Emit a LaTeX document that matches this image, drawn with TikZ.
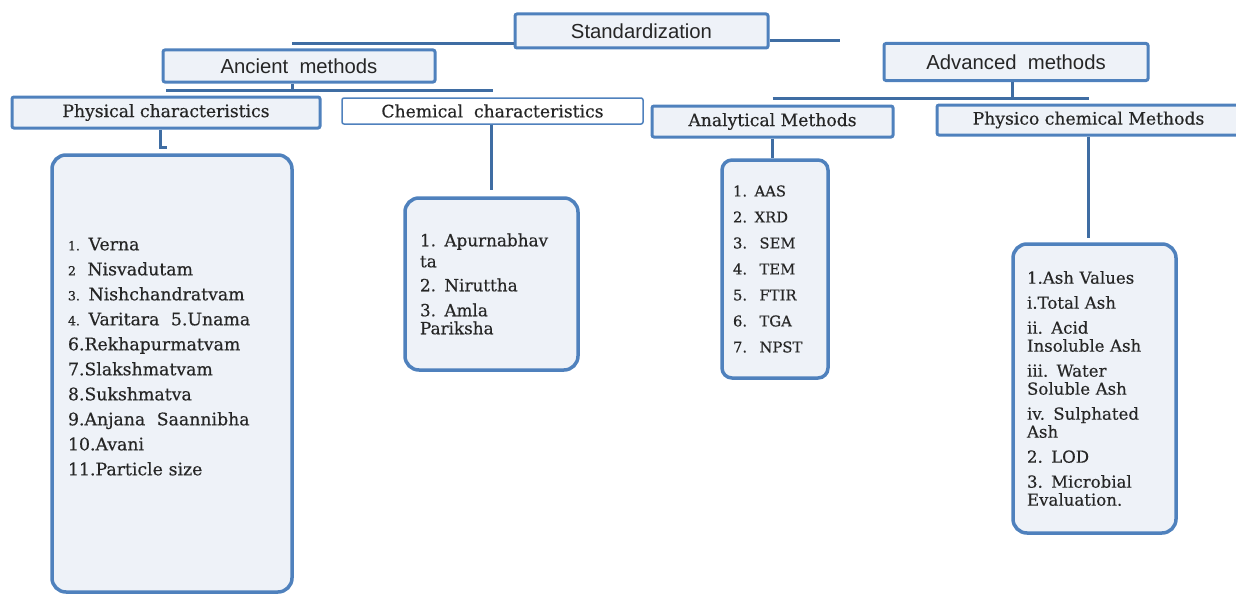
\documentclass[tikz,border=0pt]{standalone}
\usepackage{fontspec}
\setmainfont{DejaVu Serif}[FakeBold=0.4]
\newfontfamily\hdfont{Liberation Sans}
\usetikzlibrary{positioning}
\definecolor{boxblue}{HTML}{4F81BD}
\definecolor{boxfill}{HTML}{EEF2F8}
\definecolor{linkblue}{HTML}{3F6DA3}
\definecolor{txt}{HTML}{262626}
\newcommand{\sno}[1]{{\fontsize{12.5}{12}\selectfont #1}}

\begin{document}
\begin{tikzpicture}[x=1pt, y=-1pt, top/.style = {rectangle, draw=boxblue, fill=boxfill, line width=3pt, rounded corners=2pt, text=txt, font=\hdfont\fontsize{20.3}{22}\selectfont, inner sep=0pt}, head/.style = {rectangle, draw=boxblue, fill=boxfill, line width=3pt, rounded corners=2pt, text=txt, font=\fontsize{17.2}{18}\selectfont, inner sep=0pt}, listbox/.style = {rectangle, draw=boxblue, fill=boxfill, line width=3.5pt, rounded corners=14pt, text=txt, align=left, inner sep=0pt}, link/.style = {draw=linkblue, line width=3pt}]
	\useasboundingbox (0,0) rectangle (1236,594);

	\node[top, minimum width=253, minimum height=34] (std) at (641.5,31) {Standardization};
	\node[top, minimum width=272, minimum height=32] (anc) at (299,66) {Ancient\ \ methods};
	\node[top, minimum width=264, minimum height=37] (adv) at (1016,62) {Advanced\ \ methods};
	\node[head, minimum width=308, minimum height=31] (phys) at (166,112.5) {Physical characteristics\hspace{20pt}};
	\node[head, line width=1.5pt, fill=white, minimum width=301, minimum height=26] (chem) at (492.5,111) {Chemical\ \ characteristics};
	\node[head, minimum width=241, minimum height=31] (anal) at (772.5,121.5) {Analytical Methods};
	\node[head, minimum width=303, minimum height=30] (phyche) at (1088.5,120) {Physico chemical Methods};

	\node[listbox, minimum width=240, minimum height=437, text width=208, font=\fontsize{17.3}{25}\selectfont] (physlist) at (172,373.5) {\sno{1.} Verna\\ \sno{2} \ Nisvadutam\\ \sno{3.} Nishchandratvam\\ \sno{4.} Varitara \ 5.Unama\\ 6.Rekhapurmatvam\\ 7.Slakshmatvam\\ 8.Sukshmatva\\ 9.Anjana \ Saannibha\\ 10.Avani\\ 11.Particle size\\[9pt]\mbox{}};
	\node[listbox, minimum width=173, minimum height=172, text width=143, font=\fontsize{16.8}{18}\selectfont] (chemlist) at (491.5,284) {1. Apurnabhav\\[3pt] ta\\[6pt] 2. Niruttha\\[7pt] 3. Amla\\ Pariksha};
	\node[listbox, rounded corners=10pt, minimum width=106, minimum height=218, text width=84, font=\fontsize{14.8}{26}\selectfont] (analist) at (775,269) {1. AAS\\ 2. XRD\\ 3. \ SEM\\ 4. \ TEM\\ 5. \ FTIR\\ 6. \ TGA\\ 7. \ NPST};
	\node[listbox, minimum width=163, minimum height=289, text width=135, font=\fontsize{16.6}{18}\selectfont] (pclist) at (1094.5,388.5) {1.Ash Values\\[7pt] i.Total Ash\\[7pt] ii. Acid\\ Insoluble Ash\\[7pt] iii. Water\\ Soluble Ash\\[7pt] iv. Sulphated\\ Ash\\[7pt] 2. LOD\\[7pt] 3. Microbial\\ Evaluation.};

	\coordinate (ancjoin) at (292,44);
	\coordinate (advjoin) at (840,41);
	\coordinate (ancbar) at (292,90);
	\coordinate (advbar) at (1012,98);
	\coordinate (physstub) at (167,147);

	\draw[link] (std.west |- ancjoin) -- (ancjoin);
	\draw[link] (std.east |- advjoin) -- (advjoin);
	\draw[link] (anc.south -| ancbar) -- (ancbar);
	\draw[link] (phys.north |- ancbar) -- (chem.north |- ancbar);
	\draw[link] (adv.south -| advbar) -- (advbar);
	\draw[link] (anal.north |- advbar) -- (phyche.north |- advbar);
	\draw[link] ([xshift=-6pt]phys.south) |- (physstub);
	\draw[link, line width=3.5pt, shorten >=6pt] (chemlist.north |- chem.south) -- (chemlist.north);
	\draw[link, line width=3.5pt] (anal.south) -- (anal.south |- analist.north);
	\draw[link, line width=3.5pt, shorten >=4pt] (phyche.south) -- (phyche.south |- pclist.north);
\end{tikzpicture}
\end{document}
